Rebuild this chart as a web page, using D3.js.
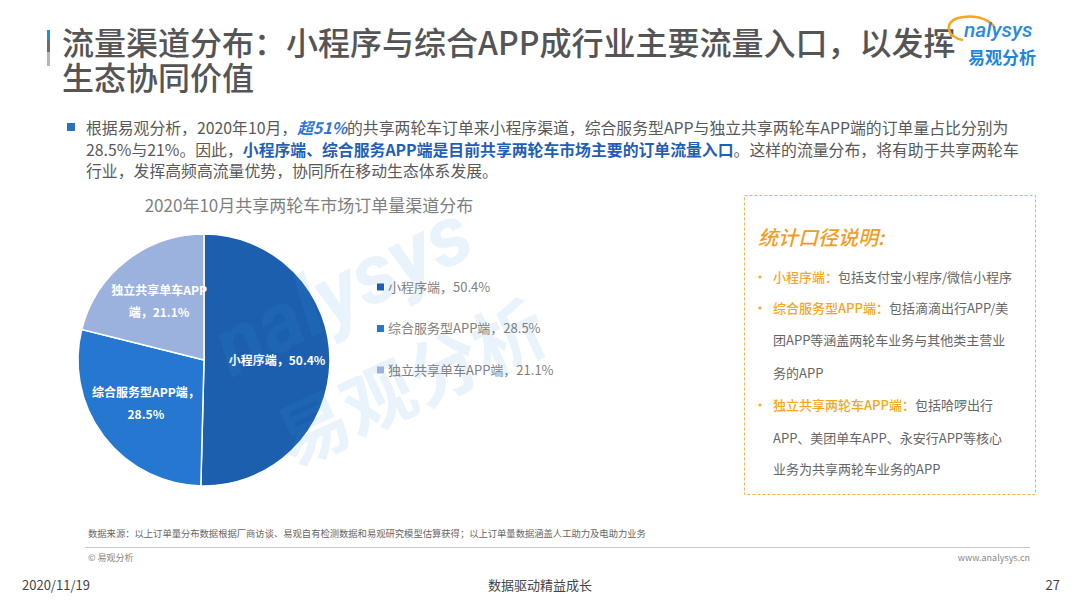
<!DOCTYPE html>
<html>
<head>
<meta charset="utf-8">
<script src="https://cdn.jsdelivr.net/npm/d3@7"></script>
<style>
  body { margin: 0; background: #fff; }
  svg { display: block; font-family: "Noto Sans CJK SC", "Noto Sans", sans-serif; }
</style>
</head>
<body>
<div id="chart"></div>
<script>
// chart data
const channels = ["小程序端", "综合服务型APP端", "独立共享单车APP端"];
const shares = [50.4, 28.5, 21.1];
// where each inner label wraps (character index), null = one line
const labelBreaks = [null, 10, 9];

const chartTitle = "2020年10月共享两轮车市场订单量渠道分布";
const pageTitle = ["流量渠道分布：小程序与综合APP成行业主要流量入口，以发挥", "生态协同价值"];

// bullet paragraph, [text, style]
const bulletLines = [
    [["根据易观分析，2020年10月，", ""], ["超51%", "em"], ["的共享两轮车订单来小程序渠道，综合服务型APP与独立共享两轮车APP端的订单量占比分别为", ""]],
    [["28.5%与21%。因此，", ""], ["小程序端、综合服务APP端是目前共享两轮车市场主要的订单流量入口", "b"], ["。这样的流量分布，将有助于共享两轮车", ""]],
    [["行业，发挥高频高流量优势，协同所在移动生态体系发展。", ""]]
];

// note box lines: [orange head, grey text, has bullet]
const noteTitle = "统计口径说明:";
const noteLines = [
    ["小程序端：", "包括支付宝小程序/微信小程序", true],
    ["综合服务型APP端：", "包括滴滴出行APP/美", true],
    ["", "团APP等涵盖两轮车业务与其他类主营业", false],
    ["", "务的APP", false],
    ["独立共享两轮车APP端：", "包括哈啰出行", true],
    ["", "APP、美团单车APP、永安行APP等核心", false],
    ["", "业务为共享两轮车业务的APP", false]
];

const sourceNote = "数据来源：以上订单量分布数据根据厂商访谈、易观自有检测数据和易观研究模型估算获得；以上订单量数据涵盖人工助力及电助力业务";

function main() {
    const W = 1080, H = 608;
    const svg = d3.select("#chart").append("svg")
        .attr("width", W).attr("height", H);

    svg.append("rect").attr("width", W).attr("height", H).attr("fill", "#fff");

    //title bar
    const bar = svg.append("g");
    bar.append("rect").attr("x", 47).attr("y", 30).attr("width", 3).attr("height", 10).attr("fill", "#1e8fe1");
    bar.append("rect").attr("x", 47).attr("y", 40).attr("width", 3).attr("height", 12).attr("fill", "#6b6b6b");
    bar.append("rect").attr("x", 47).attr("y", 52).attr("width", 3).attr("height", 14).attr("fill", "#b5b5b5");

    // one text element, two lines
    const title = svg.append("text")
        .attr("fill", "#555")
        .style("font-size", "32px")
        .attr("font-weight", 500);
    title.selectAll("tspan").data(pageTitle).enter().append("tspan")
        .attr("x", 62)
        .attr("y", (d, i) => 55 + i * 35)
        .text(d => d);

    //logo
    const logo = svg.append("g");
    logo.append("path")
        .attr("d", "M963,40 C946,37 944,22 958,18 C972,14 987,18 994,26")
        .attr("fill", "none").attr("stroke", "#f5a623").attr("stroke-width", 2.5);
    logo.append("text").attr("x", 964).attr("y", 37)
        .attr("fill", "#2d8ae0").style("font-size", "21px").style("font-style", "italic")
        .attr("font-weight", 500).style("font-family", "Roboto, sans-serif")
        .text("nalysys");
    logo.append("text").attr("x", 968).attr("y", 64)
        .attr("fill", "#1f86de").style("font-size", "17px").attr("font-weight", 700)
        .text("易观分析");

    //bullet paragraph
    svg.append("rect").attr("x", 67).attr("y", 123).attr("width", 8).attr("height", 8).attr("fill", "#2e6fc2");
    const para = svg.append("g");
    bulletLines.forEach(function(line, i) {
        const t = para.append("text")
            .attr("x", 86).attr("y", 134 + i * 21.5)
            .style("font-size", "15.85px").attr("fill", "#595959");
        line.forEach(function(seg) {
            const s = t.append("tspan").text(seg[0]);
            if (seg[1] === "em") {
                s.attr("fill", "#2e75d4").attr("font-weight", 700).style("font-style", "italic");
            } else if (seg[1] === "b") {
                s.attr("fill", "#1f5fb5").attr("font-weight", 700);
            }
        });
    });

    //chart title
    svg.append("text").attr("x", 309).attr("y", 212)
        .attr("text-anchor", "middle").attr("fill", "#7f7f7f")
        .style("font-size", "17px")
        .text(chartTitle);

    //pie
    const R = 126;
    const cx = 204, cy = 360;
    const color = d3.scaleOrdinal().domain(channels).range(["#1b5fae", "#2677d0", "#9bb1de"]);
    const data = channels.map((c, i) => ({name: c, value: shares[i], idx: i}));
    const pie = d3.pie().sort(null).value(d => d.value);
    const arc = d3.arc().innerRadius(0).outerRadius(R);
    const labelArc = d3.arc().innerRadius(R * 0.58).outerRadius(R * 0.58);

    const pg = svg.append("g").attr("transform", `translate(${cx},${cy})`);
    const arcs = pie(data);
    pg.selectAll("path").data(arcs).enter().append("path")
        .attr("d", arc)
        .attr("fill", d => color(d.data.name))
        .attr("stroke", "#fff").attr("stroke-width", 1.5);

    pg.selectAll(".plabel").data(arcs).enter().append("text")
        .attr("class", "plabel")
        .attr("transform", d => `translate(${labelArc.centroid(d)})`)
        .attr("text-anchor", "middle")
        .attr("fill", "#fff").attr("font-weight", 700)
        .style("font-size", "12px")
        .each(function(d) {
            const full = `${d.data.name}，${d.data.value}%`;
            const b = labelBreaks[d.data.idx];
            const lines = b ? [full.slice(0, b), full.slice(b)] : [full];
            const el = d3.select(this);
            lines.forEach(function(l, k) {
                el.append("tspan").attr("x", 0)
                    .attr("y", (k - (lines.length - 1) / 2) * 22 + 4)
                    .text(l);
            });
        });

    //watermark
    const wm = svg.append("g").attr("fill", "#3a9be0").attr("opacity", 0.11)
        .attr("font-weight", 700);
    wm.append("text").attr("transform", "translate(232,378) rotate(-27)")
        .style("font-size", "84px").style("font-style", "italic")
        .style("font-family", "Roboto, sans-serif").text("nalysys");
    wm.append("text").attr("transform", "translate(292,468) rotate(-25)")
        .style("font-size", "72px").text("易观分析");

    //legend
    const legend = svg.append("g").attr("transform", "translate(377,287)");
    const items = legend.selectAll("g").data(data).enter().append("g")
        .attr("transform", (d, i) => `translate(0,${i * 41.5})`);
    items.append("rect").attr("x", 0).attr("y", -3.5).attr("width", 7).attr("height", 7)
        .attr("fill", d => color(d.name));
    items.append("text").attr("x", 11).attr("y", 4.5)
        .attr("fill", "#7f7f7f").style("font-size", "13px")
        .text(d => `${d.name}，${d.value}%`);

    //note box
    const box = svg.append("g");
    box.append("rect").attr("x", 744.5).attr("y", 195.5).attr("width", 291).attr("height", 299)
        .attr("fill", "#fff").attr("stroke", "#f5b04a").attr("stroke-width", 1)
        .attr("stroke-dasharray", "3,2");
    box.append("text").attr("x", 758).attr("y", 245)
        .attr("fill", "#f39c1f").style("font-size", "20px").style("font-style", "italic")
        .attr("font-weight", 500)
        .text(noteTitle);
    const noteY = [282, 313, 345, 378, 410, 443, 474];
    noteLines.forEach(function(n, i) {
        if (n[2]) {
            box.append("circle").attr("cx", 760).attr("cy", noteY[i] - 5).attr("r", 1.6).attr("fill", "#f5a623");
        }
        const t = box.append("text").attr("x", 773).attr("y", noteY[i]).style("font-size", "13px");
        t.append("tspan").attr("fill", "#f5a623").attr("font-weight", 500).text(n[0]);
        t.append("tspan").attr("fill", "#666").text(n[1]);
    });

    //footer
    svg.append("text").attr("x", 88).attr("y", 537).attr("fill", "#666")
        .style("font-size", "9.3px").text(sourceNote);
    svg.append("line").attr("x1", 85).attr("x2", 1030).attr("y1", 547.5).attr("y2", 547.5)
        .attr("stroke", "#c8c8c8").attr("stroke-width", 1);
    svg.append("text").attr("x", 88).attr("y", 561).attr("fill", "#888")
        .style("font-size", "9px").text("© 易观分析");
    svg.append("text").attr("x", 1030).attr("y", 561).attr("fill", "#888")
        .attr("text-anchor", "end").style("font-size", "9px").text("www.analysys.cn");

    svg.append("text").attr("x", 22).attr("y", 590).attr("fill", "#444")
        .style("font-size", "13px").text("2020/11/19");
    svg.append("text").attr("x", 540).attr("y", 590).attr("fill", "#444")
        .attr("text-anchor", "middle").style("font-size", "13px").text("数据驱动精益成长");
    svg.append("text").attr("x", 1060).attr("y", 590).attr("fill", "#444")
        .attr("text-anchor", "end").style("font-size", "13px").text("27");
}

main();
</script>
</body>
</html>
